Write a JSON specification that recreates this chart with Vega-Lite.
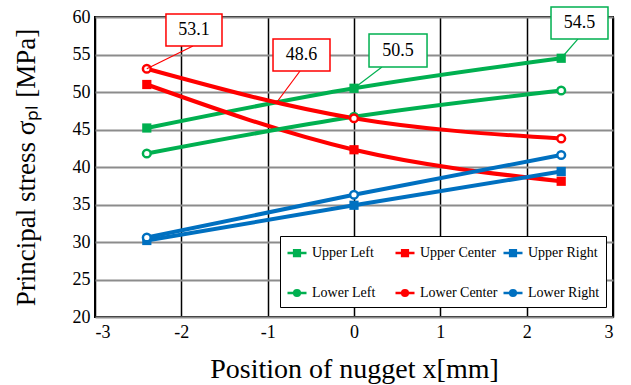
{
  "$schema": "https://vega.github.io/schema/vega-lite/v6.json",
  "width": 518,
  "height": 300,
  "autosize": "none",
  "padding": {"left": 95, "top": 17, "right": 18, "bottom": 68},
  "background": "white",
  "config": {
    "font": "Liberation Serif",
    "view": {"stroke": "black", "strokeWidth": 2},
    "axis": {"labelFont": "Liberation Serif", "titleFont": "Liberation Serif", "labelColor": "black", "titleColor": "black", "titleFontWeight": "normal", "labelOverlap": false},
    "axisX": {"tickCount": 6, "labelExpr": "datum.value + ''", "titleFontSize": 28, "titlePadding": 14, "labelFontSize": 18, "labelPadding": 6, "ticks": false, "domain": false, "grid": true, "gridColor": "black", "gridWidth": 1.5, "gridOpacity": 1},
    "axisY": {"tickCount": 8, "titleFontSize": 27, "titlePadding": 32, "labelFontSize": 18, "labelPadding": 5, "ticks": false, "domain": false, "grid": true, "gridColor": "#8c8c8c", "gridWidth": 2, "gridOpacity": 1}
  },
  "datasets": {
    "pts": [
      {"series": "Upper Left", "x": -2.4, "y": 45.2},
      {"series": "Upper Left", "x": 0, "y": 50.5},
      {"series": "Upper Left", "x": 2.4, "y": 54.5},
      {"series": "Upper Center", "x": -2.4, "y": 51.0},
      {"series": "Upper Center", "x": 0, "y": 42.3},
      {"series": "Upper Center", "x": 2.4, "y": 38.1},
      {"series": "Upper Right", "x": -2.4, "y": 30.2},
      {"series": "Upper Right", "x": 0, "y": 34.9},
      {"series": "Upper Right", "x": 2.4, "y": 39.4},
      {"series": "Lower Left", "x": -2.4, "y": 41.8},
      {"series": "Lower Left", "x": 0, "y": 46.7},
      {"series": "Lower Left", "x": 2.4, "y": 50.2},
      {"series": "Lower Center", "x": -2.4, "y": 53.1},
      {"series": "Lower Center", "x": 0, "y": 46.5},
      {"series": "Lower Center", "x": 2.4, "y": 43.8},
      {"series": "Lower Right", "x": -2.4, "y": 30.6},
      {"series": "Lower Right", "x": 0, "y": 36.3},
      {"series": "Lower Right", "x": 2.4, "y": 41.6}
    ],
    "notes": [
      {"label": "53.1", "series": "Lower Center", "bx1": -2.178, "bx2": -1.529, "by1": 56.13, "by2": 60.4, "tx": -1.853, "ty": 58.27, "lx1": -1.865, "ly1": 56.13, "lx2": -2.4, "ly2": 53.1},
      {"label": "48.6", "series": "Lower Center", "bx1": -0.938, "bx2": -0.278, "by1": 52.8, "by2": 57.07, "tx": -0.608, "ty": 54.93, "lx1": -0.625, "ly1": 52.8, "lx2": -0.89, "ly2": 48.7},
      {"label": "50.5", "series": "Upper Left", "bx1": 0.174, "bx2": 0.846, "by1": 53.33, "by2": 57.73, "tx": 0.51, "ty": 55.5, "lx1": 0.324, "ly1": 53.33, "lx2": 0, "ly2": 50.5},
      {"label": "54.5", "series": "Upper Left", "bx1": 2.282, "bx2": 2.942, "by1": 57.07, "by2": 61.33, "tx": 2.612, "ty": 59.2, "lx1": 2.595, "ly1": 57.07, "lx2": 2.4, "ly2": 54.5}
    ]
  },
  "layer": [
    {
      "data": {"name": "pts"},
      "mark": {"type": "line", "interpolate": "monotone", "strokeWidth": 4, "clip": false},
      "encoding": {
        "x": {"field": "x", "type": "quantitative", "scale": {"domain": [-3, 3], "nice": false, "zero": false},
          "axis": {"tickCount": 6, "title": "Position of nugget x[mm]"}},
        "y": {"field": "y", "type": "quantitative", "scale": {"domain": [20, 60], "nice": false, "zero": false},
          "axis": {"tickCount": 8, "title": "Principal stress σₚₗ [MPa]"}},
        "color": {"field": "series", "type": "nominal",
          "scale": {"domain": ["Upper Left", "Upper Center", "Upper Right", "Lower Left", "Lower Center", "Lower Right"], "range": ["#00B050", "#FF0000", "#0070C0", "#00B050", "#FF0000", "#0070C0"]},
          "legend": {"title": null, "orient": "none", "legendX": 185, "legendY": 219, "direction": "horizontal", "columns": 3, "gridAlign": "all", "columnPadding": 0, "rowPadding": 21, "padding": 6,
            "fillColor": "white", "strokeColor": "black", "labelFont": "Liberation Serif", "labelFontSize": 14, "labelColor": "black", "labelOffset": 4, "symbolSize": 361, "symbolStrokeWidth": 2.5, "symbolType": "M-1,0H1",
            "encode": {"symbols": {"update": {
              "shape": {"signal": "indexof(datum.value,'Upper')==0 ? 'M-1,0H1M-0.3,-0.3H0.3V0.3H-0.3Z' : 'M-1,0H-0.3M0.3,0H1M-0.3,0A0.3,0.3 0 1,1 0.3,0A0.3,0.3 0 1,1 -0.3,0Z'"},
              "fill": {"signal": "indexof(datum.value,'Upper')==0 ? scale('color', datum.value) : 'white'"},
              "fillOpacity": {"value": 1},
              "stroke": {"signal": "scale('color', datum.value)"},
              "strokeWidth": {"value": 2.5},
              "size": {"value": 361}
            }}}}
        },
        "detail": {"field": "series"}
      }
    },
    {
      "data": {"name": "pts"},
      "transform": [{"filter": "indexof(datum.series,'Upper')==0"}],
      "mark": {"type": "point", "shape": "square", "filled": true, "opacity": 1, "size": 85, "clip": false},
      "encoding": {
        "x": {"field": "x", "type": "quantitative"},
        "y": {"field": "y", "type": "quantitative"},
        "color": {"field": "series", "type": "nominal"}
      }
    },
    {
      "data": {"name": "pts"},
      "transform": [{"filter": "indexof(datum.series,'Lower')==0"}],
      "mark": {"type": "point", "shape": "circle", "filled": false, "fill": "white", "fillOpacity": 1, "opacity": 1, "strokeWidth": 2.5, "size": 60, "clip": false},
      "encoding": {
        "x": {"field": "x", "type": "quantitative"},
        "y": {"field": "y", "type": "quantitative"},
        "stroke": {"field": "series", "type": "nominal", "scale": {"domain": ["Upper Left", "Upper Center", "Upper Right", "Lower Left", "Lower Center", "Lower Right"], "range": ["#00B050", "#FF0000", "#0070C0", "#00B050", "#FF0000", "#0070C0"]}, "legend": null}
      }
    },
    {
      "data": {"name": "notes"},
      "mark": {"type": "rule", "strokeWidth": 1.2, "clip": false},
      "encoding": {
        "x": {"field": "lx1", "type": "quantitative"},
        "y": {"field": "ly1", "type": "quantitative"},
        "x2": {"field": "lx2"},
        "y2": {"field": "ly2"},
        "color": {"field": "series", "type": "nominal"}
      }
    },
    {
      "data": {"name": "notes"},
      "mark": {"type": "rect", "fill": "white", "strokeWidth": 1.5, "clip": false},
      "encoding": {
        "x": {"field": "bx1", "type": "quantitative"},
        "x2": {"field": "bx2"},
        "y": {"field": "by1", "type": "quantitative"},
        "y2": {"field": "by2"},
        "stroke": {"field": "series", "type": "nominal", "legend": null}
      }
    },
    {
      "data": {"name": "notes"},
      "mark": {"type": "text", "font": "Liberation Serif", "fontSize": 18, "color": "black", "align": "center", "baseline": "middle", "clip": false},
      "encoding": {
        "x": {"field": "tx", "type": "quantitative"},
        "y": {"field": "ty", "type": "quantitative"},
        "text": {"field": "label"}
      }
    }
  ]
}
